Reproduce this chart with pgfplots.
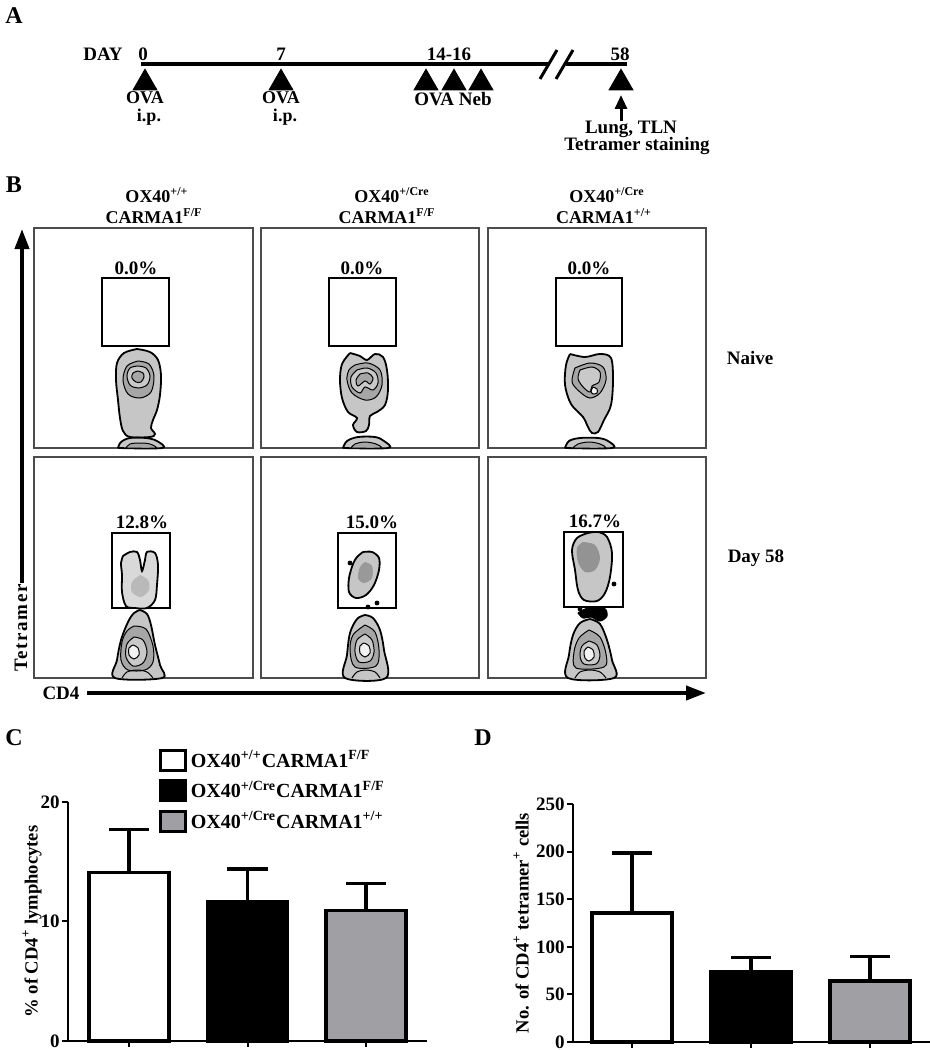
\documentclass[border=0pt]{standalone}
\usepackage{fontspec}
\setmainfont{Liberation Serif}
\usepackage{pgfplots}
\pgfplotsset{compat=1.18}
\usetikzlibrary{arrows.meta}

\newcommand\fs[1]{\fontsize{#1}{#1}\selectfont\bfseries}

\tikzset{t/.style={inner sep=0pt, font=\fs{9.5}}, s/.style={inner sep=0pt, font=\fs{9}}}
\pgfplotsset{
  ring/.style={draw=black, line width=0.5pt, smooth, tension=0.55},
  c0/.style={ring, line width=0.9pt, fill=gray!45},
  c1/.style={ring, fill=gray!70},
  c2/.style={ring, fill=gray!42},
  c3/.style={ring, fill=gray!10},
  spot/.style={draw=none, smooth, tension=0.55, fill=#1},
  barax/.style={scale only axis, axis x line*=bottom, axis y line*=left,
    axis line style={line width=1pt}, tick align=outside, major tick length=3pt,
    tick style={line width=1pt, black}, xtick={1,2,3}, xticklabels={},
    xticklabel style={overlay},
    ymin=0, /pgf/number format/assume math mode=true,
    yticklabel style={font=\fs{9.5}, inner sep=1pt}, ylabel style={font=\fs{9.3}}, clip=false},
  grp/.style={ybar, bar width=40pt, bar shift=0pt, draw=black, line width=1.6pt,
    error bars/y dir=plus, error bars/y explicit,
    error bars/error bar style={line width=1.6pt, black},
    error bars/error mark options={rotate=90, mark size=10pt, line width=1.6pt, black}},
}

\begin{document}
\begin{tikzpicture}
% ---------- master axis: pixel grid of the whole figure ----------
\begin{axis}[at={(0,0)}, anchor=south west, scale only axis,
  width=465pt, height=525pt, xmin=0, xmax=930, ymin=0, ymax=1050,
  y dir=reverse, hide axis, clip=false]

% panel A: timeline
\node[t, font=\fs{12}] at (14,16) {A};
\node[t] at (103,54) {DAY};
\node[t] at (143,54) {0};
\node[t] at (281,54) {7};
\node[t] at (449,54) {14-16};
\node[t] at (620,54) {58};
\draw[line width=2pt] (141,64) -- (548,64);
\draw[line width=2pt] (566,64) -- (627,64);
\draw[line width=1.5pt] (540,79) -- (557,50);
\draw[line width=1.5pt] (556,79) -- (573,50);
\addplot[only marks, mark=triangle*, mark size=6.9pt, black]
  coordinates {(145,83) (281,83) (426,83) (454,83) (481,83) (621,83)};
\node[s] at (145,98) {OVA};
\node[s] at (149,117) {i.p.};
\node[s] at (281,98) {OVA};
\node[s] at (285,117) {i.p.};
\node[t] at (453,99) {OVA Neb};
\draw[line width=1.5pt, -{Triangle[length=7pt,width=6pt]}] (621,121) -- (621,95);
\node[t] at (631,129) {Lung, TLN};
\node[t] at (637,146) {Tetramer staining};

% panel B: headers and frames
\node[t, font=\fs{12}] at (14,185) {B};
\node[s] at (157,195) {OX40\textsuperscript{+/+}};
\node[s] at (154,216) {CARMA1\textsuperscript{F/F}};
\node[s] at (392,195) {OX40\textsuperscript{+/Cre}};
\node[s] at (387,216) {CARMA1\textsuperscript{F/F}};
\node[s] at (607,195) {OX40\textsuperscript{+/Cre}};
\node[s] at (604,216) {CARMA1\textsuperscript{+/+}};
\node[t] at (750,358) {Naive};
\node[t] at (756,558) {Day 58};
\draw[line width=0.8pt, black!70] (34,228) rectangle (253,448);
\draw[line width=0.8pt, black!70] (261,228) rectangle (479,448);
\draw[line width=0.8pt, black!70] (488,228) rectangle (706,448);
\draw[line width=0.8pt, black!70] (34,457) rectangle (253,678);
\draw[line width=0.8pt, black!70] (261,457) rectangle (479,678);
\draw[line width=0.8pt, black!70] (488,457) rectangle (706,678);
\draw[line width=2pt, -{Triangle[length=10pt,width=7pt]}] (22,583) -- (22,229);
\node[t, rotate=90] at (21,628) {\addfontfeatures{LetterSpace=8}Tetramer};
\draw[line width=2pt, -{Triangle[length=10pt,width=7pt]}] (87,693) -- (706,693);
\node[t] at (61,693) {CD4};

% gates and percentages
\draw[line width=0.6pt] (102,278) rectangle (169,346);
\draw[line width=0.6pt] (329,278) rectangle (396,346);
\draw[line width=0.6pt] (556,278) rectangle (622,346);
\node[t] at (136,268) {0.0\%};
\node[t] at (362,268) {0.0\%};
\node[t] at (589,268) {0.0\%};
\draw[line width=0.6pt] (112,533) rectangle (170,608);
\draw[line width=0.6pt] (338,533) rectangle (396,608);
\draw[line width=0.6pt] (564,532) rectangle (623,607);
\node[t] at (142,522) {12.8\%};
\node[t] at (372,522) {15.0\%};
\node[t] at (595,521) {16.7\%};

% naive, panel 1
\addplot[c0] coordinates {(137,349) (150,352) (158,360) (161,375) (160,395) (157,410) (153,420) (151,428) (155,434) (150,437) (130,437) (123,431) (120,418) (118,400) (116,380) (117,363) (124,353) (137,349)};
\addplot[c1] coordinates {(138,361) (149,364) (154,376) (151,392) (140,398) (128,394) (123,380) (127,366) (138,361)};
\addplot[c2] coordinates {(138,366) (146,368) (150,376) (147,385) (138,388) (130,385) (127,376) (130,368) (138,366)};
\addplot[c1] coordinates {(138,371) (143,373) (144,377) (141,382) (136,382) (132,378) (133,373) (138,371)};
\addplot[c0] coordinates {(118,448) (121,442) (130,438) (146,438) (157,441) (162,448) (118,448)};
\addplot[c1] coordinates {(126,448) (130,444) (140,443) (150,444) (155,448) (126,448)};
% naive, panel 2
\addplot[c0] coordinates {(350,353) (360,356) (367,360) (375,354) (383,357) (387,370) (388,390) (385,405) (377,412) (370,416) (369,425) (366,431) (357,432) (353,425) (357,418) (348,412) (342,398) (340,380) (342,364) (350,353)};
\addplot[c1] coordinates {(355,365) (368,363) (380,370) (382,385) (376,397) (365,400) (352,393) (347,380) (349,370) (355,365)};
\addplot[c2] coordinates {(357,370) (367,368) (376,373) (378,383) (373,390) (365,387) (360,393) (352,387) (351,377) (357,370)};
\addplot[c1] coordinates {(360,374) (368,373) (373,378) (370,384) (365,381) (358,386) (356,380) (360,374)};
\addplot[c0] coordinates {(343,448) (347,441) (358,437) (375,437) (384,441) (388,448) (343,448)};
\addplot[c1] coordinates {(351,448) (355,444) (365,442) (376,444) (380,448) (351,448)};
% naive, panel 3
\addplot[c0] coordinates {(570,354) (585,357) (600,354) (611,358) (613,380) (611,405) (604,420) (598,432) (592,433) (588,427) (583,417) (571,404) (565,385) (566,365) (570,354)};
\addplot[c1] coordinates {(575,368) (590,363) (603,367) (606,380) (600,393) (590,398) (580,392) (572,382) (575,368)};
\addplot[c2] coordinates {(580,370) (592,367) (600,372) (599,382) (592,386) (590,392) (584,388) (578,379) (580,370)};
\addplot[c3] coordinates {(593,387) (597,389) (597,393) (593,394) (591,391) (593,387)};
\addplot[c0] coordinates {(565,448) (569,441) (580,438) (598,438) (608,441) (612,448) (565,448)};
\addplot[c1] coordinates {(573,448) (578,444) (589,442) (600,444) (604,448) (573,448)};

% day 58, panel 1
\addplot[c0, fill=gray!30] coordinates {(123,556) (130,552) (137,552) (140,560) (142,571) (145,560) (147,552) (155,553) (158,565) (157,585) (155,600) (147,608) (135,608) (126,606) (122,592) (122,575) (121,563) (123,556)};
\addplot[spot=gray!55] coordinates {(140,575) (148,580) (149,590) (141,597) (132,592) (132,582) (140,575)};
\addplot[c0] coordinates {(140,610) (147,614) (151,625) (155,645) (160,665) (162,678) (115,678) (117,660) (121,640) (128,622) (134,613) (140,610)};
\addplot[c1] coordinates {(134,626) (146,629) (153,646) (153,662) (145,670) (128,670) (121,660) (122,642) (127,631) (134,626)};
\addplot[c2] coordinates {(134,637) (143,640) (147,652) (143,663) (133,666) (126,657) (127,644) (134,637)};
\addplot[c3] coordinates {(133,645) (138,648) (139,655) (134,659) (129,655) (129,648) (133,645)};
\addplot[ring] coordinates {(122,678) (127,672) (137,670) (147,672) (153,678)};
% day 58, panel 2
\addplot[c0] coordinates {(363,552) (372,552) (379,558) (379,570) (374,585) (366,595) (356,598) (349,592) (349,578) (353,564) (357,557) (363,552)};
\addplot[spot=gray!80] coordinates {(365,562) (372,566) (372,578) (364,583) (358,578) (360,567) (365,562)};
\addplot[only marks, mark=*, mark size=1pt, black] coordinates {(350,563) (377,603) (368,607)};
\addplot[c0] coordinates {(365,615) (373,618) (380,630) (384,650) (386,678) (345,678) (347,655) (350,633) (357,619) (365,615)};
\addplot[c1] coordinates {(365,625) (375,632) (379,650) (376,666) (355,667) (350,650) (353,635) (365,625)};
\addplot[c2] coordinates {(365,634) (372,640) (374,652) (370,661) (359,662) (355,652) (357,640) (365,634)};
\addplot[c3] coordinates {(364,643) (369,646) (370,653) (365,657) (360,653) (360,646) (364,643)};
\addplot[ring] coordinates {(352,678) (357,672) (366,670) (375,672) (380,678)};
% day 58, panel 3
\addplot[c0] coordinates {(588,533) (598,532) (607,537) (612,553) (610,577) (605,593) (597,601) (584,600) (578,590) (575,570) (572,550) (577,538) (588,533)};
\addplot[spot=gray!85] coordinates {(583,542) (595,545) (600,558) (595,570) (585,572) (578,562) (577,548) (583,542)};
\addplot[only marks, mark=*, mark size=1pt, black] coordinates {(614,584) (580,609)};
\addplot[ring, fill=black] coordinates {(578,613) (588,608) (604,608) (607,616) (600,621) (591,617) (583,618) (578,613)};
\addplot[c0] coordinates {(590,619) (600,624) (607,640) (612,660) (614,678) (568,678) (569,655) (573,635) (580,623) (590,619)};
\addplot[c1] coordinates {(589,630) (600,637) (606,654) (604,667) (576,668) (574,652) (579,638) (589,630)};
\addplot[c2] coordinates {(589,641) (597,645) (600,656) (596,664) (584,664) (580,656) (582,646) (589,641)};
\addplot[c3] coordinates {(588,647) (593,650) (594,657) (589,661) (585,658) (584,651) (588,647)};
\addplot[ring] coordinates {(575,678) (580,672) (590,670) (600,672) (606,678)};

\node[t, font=\fs{12}] at (14,738) {C};
\node[t, font=\fs{12}] at (483,738) {D};
\end{axis}

% ---------- panel C ----------
\begin{axis}[barax, at={(34pt,4.5pt)}, anchor=south west,
  width=179.5pt, height=119.5pt, xmin=0.485, xmax=3.515, ymax=20, ytick={0,10,20},
  ylabel={\% of CD4\textsuperscript{+} lymphocytes},
  ylabel style={at={(axis description cs:-0.1,0.5)}, anchor=center},
  legend image code/.code={\draw[#1, line width=1.4pt] (0pt,-5pt) rectangle (12.5pt,5pt);},
  legend style={at={(0.236,1.25)}, anchor=north west, draw=none, fill=none,
    font=\fs{10}, row sep=1.5pt, cells={anchor=west}}]
\addplot[grp, fill=white] coordinates {(1,14.1) +- (0,3.6)};
\addplot[grp, fill=black] coordinates {(2,11.7) +- (0,2.7)};
\addplot[grp, fill={rgb,255:red,160;green,160;blue,164}] coordinates {(3,10.9) +- (0,2.3)};
\legend{OX40\textsuperscript{+/+}CARMA1\textsuperscript{F/F},
        OX40\textsuperscript{+/Cre}CARMA1\textsuperscript{F/F},
        OX40\textsuperscript{+/Cre}CARMA1\textsuperscript{+/+}}
\end{axis}

% ---------- panel D ----------
\begin{axis}[barax, at={(286.5pt,4pt)}, anchor=south west,
  width=178.5pt, height=119pt, xmin=0.504, xmax=3.504, ymax=250,
  ytick={0,50,100,150,200,250},
  ylabel={No. of CD4\textsuperscript{+} tetramer\textsuperscript{+} cells},
  ylabel style={at={(axis description cs:-0.145,0.5)}, anchor=center}]
\addplot[grp, fill=white] coordinates {(1,135.5) +- (0,63)};
\addplot[grp, fill=black] coordinates {(2,73.5) +- (0,15.5)};
\addplot[grp, fill={rgb,255:red,160;green,160;blue,164}] coordinates {(3,64) +- (0,26)};
\end{axis}
\pgfresetboundingbox
\path[use as bounding box] (0,0) rectangle (465pt,525pt);
\end{tikzpicture}
\end{document}
